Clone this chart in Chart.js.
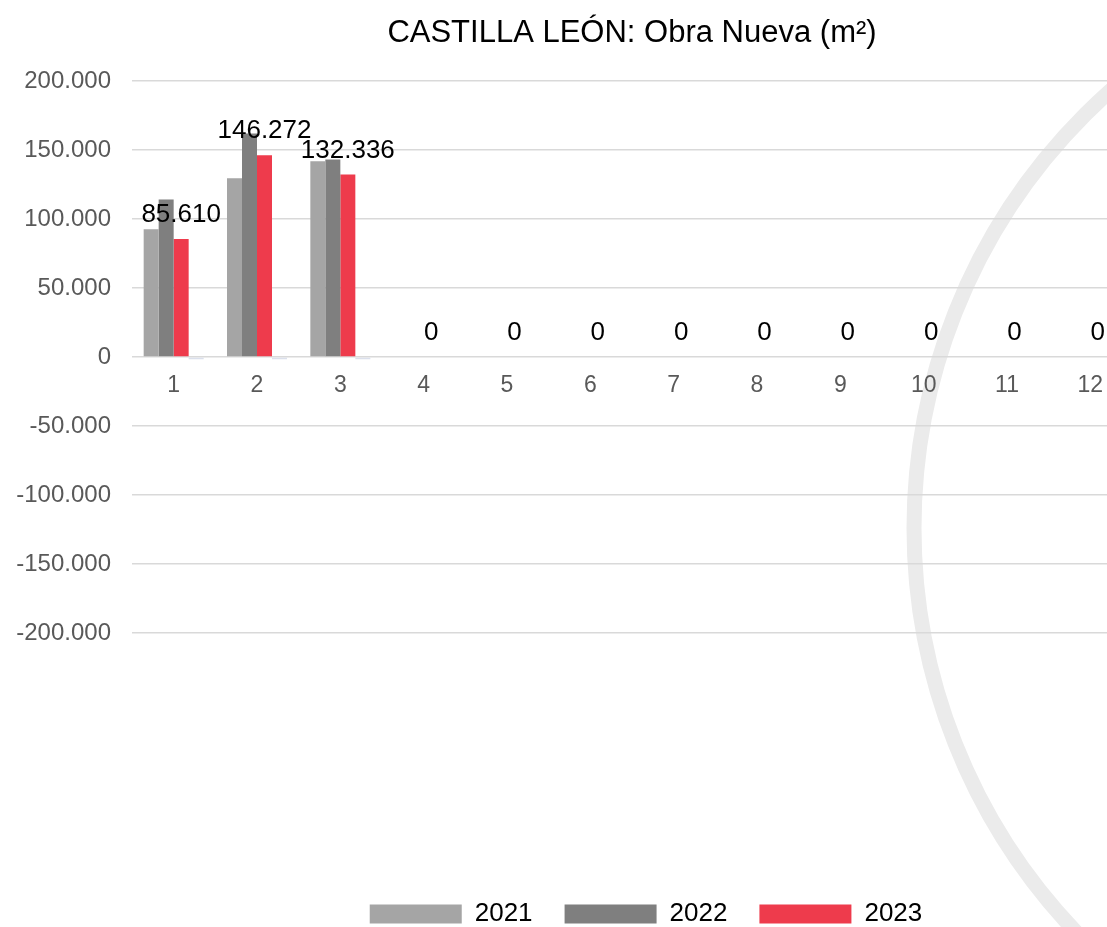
<!DOCTYPE html>
<html>
<head>
<meta charset="utf-8">
<script src="https://cdn.jsdelivr.net/npm/chart.js@4.4.1/dist/chart.umd.min.js"></script>
<style>
  html, body { margin: 0; padding: 0; overflow: hidden; background: #fff; }
</style>
</head>
<body>
<canvas id="chart" width="1132" height="927"></canvas>
<script>
// data
const months = ['1', '2', '3', '4', '5', '6', '7', '8', '9', '10', '11', '12'];
const v2021 = [92600, 129600, 141900, null, null, null, null, null, null, null, null, null];
const v2022 = [114300, 162000, 143200, null, null, null, null, null, null, null, null, null];
const v2023 = [85610, 146272, 132336, 0, 0, 0, 0, 0, 0, 0, 0, 0];
const vHidden = [-1500, -1500, -1500, null, null, null, null, null, null, null, null, null];
const yTicks = [-200000, -150000, -100000, -50000, 0, 50000, 100000, 150000, 200000];

const FONT = "'Liberation Sans', Arial, sans-serif";

function fmt(n) {
  const s = String(Math.abs(Math.round(n))).replace(/\B(?=(\d{3})+(?!\d))/g, '.');
  return (n < 0 ? '-' : '') + s;
}

// big pale ring behind the plot
const ringPlugin = {
  id: 'ring',
  beforeDraw(chart) {
    const ctx = chart.ctx;
    ctx.save();
    ctx.strokeStyle = '#ebebeb';
    ctx.lineWidth = 15;
    ctx.beginPath();
    ctx.arc(1499, 528, 585, 0, Math.PI * 2);
    ctx.stroke();
    ctx.restore();
  }
};

// value labels over the 2023 bars
const valueLabels = {
  id: 'valueLabels',
  afterDatasetsDraw(chart) {
    const ctx = chart.ctx;
    const meta = chart.getDatasetMeta(2);
    ctx.save();
    ctx.font = '26px ' + FONT;
    ctx.fillStyle = '#000';
    ctx.textAlign = 'center';
    ctx.textBaseline = 'alphabetic';
    meta.data.forEach((bar, i) => {
      const v = v2023[i];
      if (v === null) return;
      ctx.fillText(fmt(v), bar.x, bar.y - 17);
    });
    ctx.restore();
  }
};

// legend sits at the very bottom, a bit right of centre
const legendPlace = {
  id: 'legendPlace',
  afterLayout(chart) {
    const lg = chart.legend;
    const h = lg.bottom - lg.top;
    lg.top = 869;
    lg.bottom = 869 + h;
    lg.left += 14;
    lg.right += 14;
  }
};

new Chart(document.getElementById('chart').getContext('2d'), {
  type: 'bar',
  data: {
    labels: months,
    datasets: [
      { label: '2021', data: v2021, backgroundColor: '#a5a5a5' },
      { label: '2022', data: v2022, backgroundColor: '#7f7f7f' },
      { label: '2023', data: v2023, backgroundColor: '#ee3b4c' },
      { label: '', data: vHidden, backgroundColor: '#dbe0ec' }
    ]
  },
  options: {
    responsive: false,
    animation: false,
    devicePixelRatio: 1,
    layout: { padding: { left: 0, right: 0, top: 0, bottom: 226 } },
    datasets: {
      bar: { barPercentage: 1, categoryPercentage: 0.72 }
    },
    scales: {
      x: {
        position: { y: 0 },
        grid: { display: false },
        border: { display: false },
        ticks: {
          color: '#595959',
          font: { family: FONT, size: 23 },
          padding: 7,
          maxRotation: 0
        }
      },
      y: {
        min: -200000,
        max: 200000,
        afterBuildTicks(scale) {
          scale.ticks = yTicks.map(v => ({ value: v }));
        },
        afterFit(scale) {
          scale.width = 132;
        },
        grid: { color: '#d9d9d9', lineWidth: 1.5, drawTicks: false },
        border: { display: false },
        ticks: {
          color: '#595959',
          font: { family: FONT, size: 24 },
          padding: 21,
          callback: v => fmt(v)
        }
      }
    },
    plugins: {
      title: {
        display: true,
        fullSize: false,
        text: 'CASTILLA LEÓN: Obra Nueva (m²)',
        color: '#000',
        font: { family: FONT, size: 31, weight: 'normal' },
        padding: { top: 15, bottom: 29 }
      },
      legend: {
        position: 'bottom',
        fullSize: false,
        labels: {
          boxWidth: 92,
          boxHeight: 19,
          padding: 32,
          color: '#000',
          font: { family: FONT, size: 26 },
          filter: item => item.datasetIndex < 3
        }
      },
      tooltip: { enabled: false }
    }
  },
  plugins: [ringPlugin, valueLabels, legendPlace]
});
</script>
</body>
</html>
